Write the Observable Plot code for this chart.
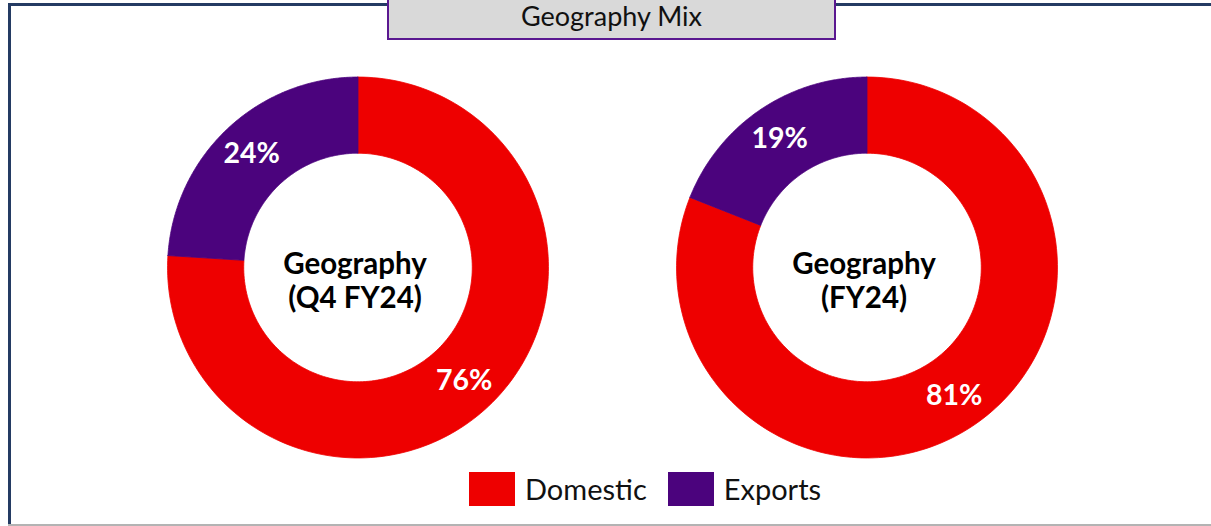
<!DOCTYPE html>
<html>
<head>
<meta charset="utf-8">
<script src="https://cdn.jsdelivr.net/npm/d3@7"></script>
<script src="https://cdn.jsdelivr.net/npm/@observablehq/plot@0.6"></script>
<style>
  html, body { margin: 0; padding: 0; background: #ffffff; }
  #wrap { position: relative; width: 1211px; height: 526px; overflow: hidden; font-family: Lato, "Open Sans", sans-serif; }
  .line { position: absolute; }
  #top { left: 8px; top: 3px; width: 1210px; height: 3px; background: #243b63; }
  #left { left: 8px; top: 3px; width: 3px; height: 522px; background: #243b63; }
  #bottom { left: 8px; top: 524px; width: 1210px; height: 2px; background: #b3b3b3; }
  #chart { position: absolute; left: 0; top: 0; }
  #title { position: absolute; left: 387px; top: 0px; width: 445px; height: 38px; background: #d9d9d9;
           border: 2px solid #5a1890; border-top: none; box-sizing: content-box;
           text-align: center; font-size: 27px; line-height: 1.2; color: #111; }
  #legend { position: absolute; left: 469px; top: 471px; }
  #legend .lg-swatch { margin-right: 21px !important; }
  #legend .lg-swatch > svg { margin-right: 10px !important; }
</style>
</head>
<body>
<div id="wrap">
  <div class="line" id="top"></div>
  <div class="line" id="left"></div>
  <div class="line" id="bottom"></div>
  <div id="chart"></div>
  <div id="title">Geography Mix</div>
  <div id="legend"></div>
</div>
<script>
// ---- data ----
const charts = ["Geography\n(Q4 FY24)", "Geography\n(FY24)"];
const categories = ["Domestic", "Exports"];
const domesticShare = [76, 81];
const exportsShare = [24, 19];
const colors = ["#ee0000", "#4b037d"];

const innerRatio = 0.6;
const N = 180;

// build slice polygons (clockwise from 12 o'clock)
const polys = [];
const labels = [];
charts.forEach((chart, i) => {
  const values = [domesticShare[i], exportsShare[i]];
  const total = d3.sum(values);
  let acc = 0;
  values.forEach((v, j) => {
    const a0 = acc / total * 2 * Math.PI;
    const a1 = (acc + v) / total * 2 * Math.PI;
    acc += v;
    const key = chart + "|" + categories[j];
    const pts = [];
    for (let k = 0; k <= N; k++) {
      const t = a0 + (a1 - a0) * k / N;
      pts.push({x: Math.sin(t), y: Math.cos(t)});
    }
    for (let k = N; k >= 0; k--) {
      const t = a0 + (a1 - a0) * k / N;
      pts.push({x: innerRatio * Math.sin(t), y: innerRatio * Math.cos(t)});
    }
    pts.push(pts[0]);
    pts.forEach(p => polys.push({chart, category: categories[j], key, x: p.x, y: p.y}));
    const mid = (a0 + a1) / 2, r = 0.815;
    labels.push({chart, x: r * Math.sin(mid), y: r * Math.cos(mid), text: v + "%"});
  });
});

const plot = Plot.plot({
  width: 1211,
  height: 480,
  marginLeft: 147,
  marginRight: 135,
  marginTop: 57.5,
  marginBottom: 3.5,
  style: {fontFamily: "Lato, 'Open Sans', sans-serif", background: "transparent"},
  fx: {domain: charts, paddingInner: 0.177, paddingOuter: 0, axis: null},
  x: {domain: [-1.1, 1.1], axis: null},
  y: {domain: [-1.1, 1.1], axis: null},
  color: {domain: categories, range: colors},
  marks: [
    Plot.line(polys, {fx: "chart", x: "x", y: "y", z: "key", fill: "category", stroke: "category", strokeWidth: 0.8, curve: "linear"}),
    Plot.text(labels, {fx: "chart", x: "x", y: "y", text: "text", fill: "white", fontWeight: "bold", fontSize: 28.5}),
    Plot.text(charts, {fx: d => d, text: d => d, frameAnchor: "middle", dx: -3, dy: 13, fontSize: 29.5, fontWeight: "bold", fill: "#000", lineHeight: 1.15})
  ]
});
document.getElementById("chart").appendChild(plot);

const legend = Plot.legend({
  color: {domain: categories, range: colors},
  className: "lg",
  swatchWidth: 46,
  swatchHeight: 34,
  style: {fontSize: "29px", fontFamily: "Lato, 'Open Sans', sans-serif", color: "#111"}
});
document.getElementById("legend").appendChild(legend);
</script>
</body>
</html>
